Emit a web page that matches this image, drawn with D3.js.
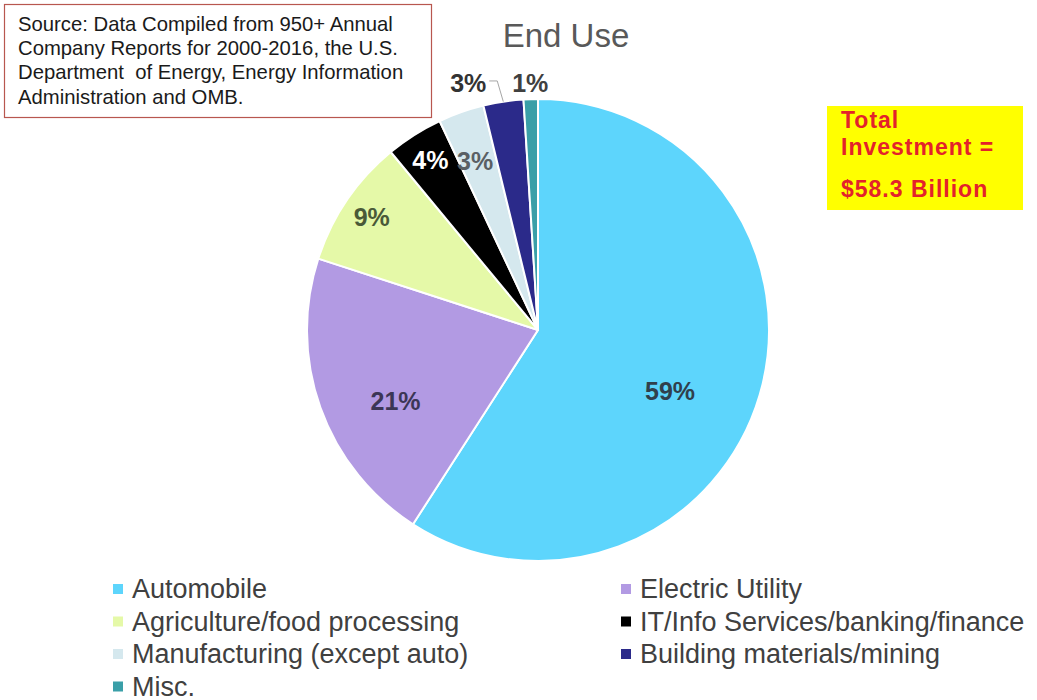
<!DOCTYPE html>
<html><head><meta charset="utf-8">
<script src="https://cdn.jsdelivr.net/npm/d3@7"></script>
<style>body{margin:0;background:#fff;} svg{display:block;font-family:Arial,"Liberation Sans",sans-serif;}</style>
</head><body>
<svg id="c" width="1037" height="700"></svg>
<script>
const categories = ["Automobile","Electric Utility","Agriculture/food processing","IT/Info Services/banking/finance","Manufacturing (except auto)","Building materials/mining","Misc."];
const values = [59.1, 20.9, 9.0, 4.0, 3.2, 2.8, 1.0];
const labels = ["59%","21%","9%","4%","3%","3%","1%"];
const colors = ["#5dd5fc","#b29ae3","#e5f9a8","#000000","#d5e8ee","#2b2a8a","#3a9fa8"];
const labelColors = ["#30404c","#3c3656","#4a5a38","#ffffff","#5a6064","#333333","#404040"];
const legendOrder = [0,1,2,3,4,5,6];
const sourceLines = ["Source: Data Compiled from 950+ Annual","Company Reports for 2000-2016, the U.S.","Department  of Energy, Energy Information","Administration and OMB."];
const totalLines = ["Total","Investment =","$58.3 Billion"];

const svg = d3.select("#c");
const cx = 538, cy = 330, R = 231;

// Source box
svg.append("rect").attr("x",4.5).attr("y",4.5).attr("width",427).attr("height",113)
  .attr("fill","#fff").attr("stroke","#b8574f").attr("stroke-width",1.2);
svg.selectAll("text.src").data(sourceLines).join("text").attr("class","src")
  .attr("x",18).attr("y",(d,i)=>31+i*24.2).attr("font-size",20.3).attr("fill","#1a1a1a").style("white-space","pre").text(d=>d);

// Title
svg.append("text").attr("x",566).attr("y",47).attr("text-anchor","middle")
  .attr("font-size",33).attr("fill","#595959").text("End Use");

// Total box
svg.append("rect").attr("x",827).attr("y",106).attr("width",196).attr("height",104).attr("fill","#ffff00");
svg.selectAll("text.tot").data(totalLines).join("text").attr("class","tot")
  .attr("x",841).attr("y",(d,i)=>[128,155,197][i]).attr("font-size",23).attr("font-weight","bold")
  .attr("letter-spacing",1).attr("fill","#e3222b").text(d=>d);

// Pie
const pie = d3.pie().sort(null).value(d=>d)(values);
const arc = d3.arc().innerRadius(0).outerRadius(R);
const g = svg.append("g").attr("transform",`translate(${cx},${cy})`);
g.selectAll("path").data(pie).join("path").attr("d",arc)
  .attr("fill",(d,i)=>colors[i]).attr("stroke","#fff").attr("stroke-width",2).attr("stroke-linejoin","round");

const labelR = [0.63,0.69,0.87,0.87,0.78,1.07,1.07];
const labelNudge = [8.5,-7,0,0,-1,0,0]; // degrees
const pos = pie.map((d,i)=>{
  const a = (d.startAngle+d.endAngle)/2 + labelNudge[i]*Math.PI/180;
  const r = labelR[i]*R;
  return [Math.sin(a)*r, -Math.cos(a)*r];
});
// building label moved left (callout)
pos[5] = [pos[6][0]-62, pos[6][1]];
g.selectAll("text.lab").data(pie).join("text").attr("class","lab")
  .attr("x",(d,i)=>pos[i][0]).attr("y",(d,i)=>pos[i][1]).attr("dy","0.35em")
  .attr("text-anchor","middle").attr("font-size",25).attr("font-weight","bold")
  .attr("fill",(d,i)=>labelColors[i]).text((d,i)=>labels[i]);
// leader line for building slice
{
  const d = pie[5]; const a=(d.startAngle+d.endAngle)/2;
  const ex = Math.sin(a)*R, ey = -Math.cos(a)*R;
  const sx = pos[5][0]+21, sy = pos[5][1]-2;
  g.append("path").attr("d",`M${sx},${sy}L${sx+8},${sy}L${ex},${ey}`)
    .attr("fill","none").attr("stroke","#a6a6a6").attr("stroke-width",1);
}

// Legend
const leg = svg.append("g");
legendOrder.forEach((k,j)=>{
  const col = j%2, row = Math.floor(j/2);
  const x = col===0 ? 113 : 621, y = 598 + row*32.5;
  leg.append("rect").attr("x",x).attr("y",y-14).attr("width",10).attr("height",10).attr("fill",colors[k]);
  leg.append("text").attr("x",x+19).attr("y",y).attr("font-size",27).attr("fill","#404040").text(categories[k]);
});
</script>
</body></html>
